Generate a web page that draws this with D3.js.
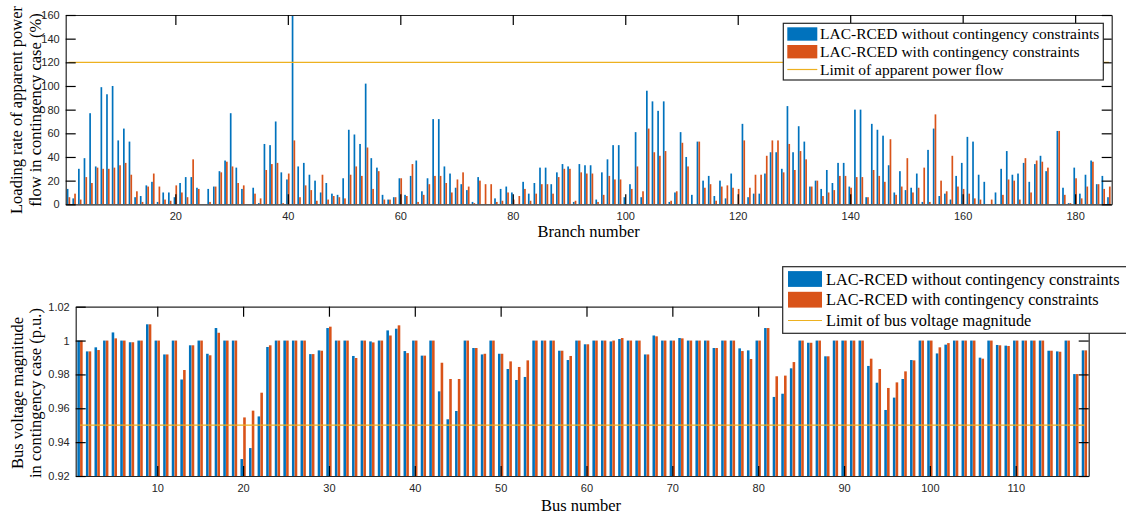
<!DOCTYPE html>
<html>
<head>
<meta charset="utf-8">
<script src="https://cdn.jsdelivr.net/npm/d3@7"></script>
<style>
html,body{margin:0;padding:0;background:#fff;}
svg{display:block;}
</style>
</head>
<body>
<svg id="chart" width="1126" height="517"></svg>
<script>
// ---------------- DATA ----------------
const branchWithout = [13,5,30,39,77,32,99,93,100,54,64,53,6,7,16,19,2,10,10,6,
18,23,23,14,0,13,15,28,37,77,31,13,0,14,1,51,50,70,27,21,
160,32,35,25,20,10,18,9,8,22,63,59,51,102,39,31,8,4,6,22,
8,24,37,11,22,72,72,32,26,14,17,12,2,23,0,0,5,13,15,10,
0,19,9,18,31,31,17,27,34,32,2,34,33,33,4,27,38,50,50,6,
17,61,6,96,87,79,87,2,10,61,40,8,53,20,24,7,20,5,26,0,
68,6,9,9,26,44,44,30,83,44,66,53,15,20,13,29,18,35,35,15,
80,80,6,68,63,58,33,10,28,12,14,26,2,46,64,7,9,4,24,35,
57,53,25,19,0,10,30,45,25,26,35,19,34,41,28,0,62,14,1,31,
9,25,37,17,24,6];
const branchWith = [6,9,4,23,18,31,30,30,31,33,35,25,11,2,15,26,15,4,3,16,
10,6,38,13,0,2,15,27,36,32,18,16,0,9,5,29,34,35,1,26,
54,6,16,12,3,25,4,7,6,5,25,32,24,48,13,28,4,4,6,22,
7,34,2,8,17,24,24,18,10,21,27,15,1,20,17,17,2,3,10,4,
7,13,3,9,17,17,9,23,30,30,3,27,26,26,2,8,24,21,21,0,
13,32,11,64,44,41,45,3,11,52,32,0,53,14,17,3,15,16,14,13,
54,14,25,25,41,54,54,27,51,29,45,38,15,20,7,10,12,24,24,14,
23,23,6,29,24,19,55,8,15,39,10,14,31,2,76,20,11,41,15,13,
9,5,4,0,4,0,8,21,20,4,39,10,37,36,31,0,62,8,1,22,
5,15,36,17,13,15];
const branchLimit = 120;
const branchTicksX = [20,40,60,80,100,120,140,160,180];
const branchTicksY = [0,20,40,60,80,100,120,140,160];

const busWithout = [1.000,0.9936,0.996,1.000,1.0048,1.000,0.999,1.000,1.0096,1.000,
0.9918,1.000,0.977,0.9972,1.000,0.9922,1.0074,1.000,1.000,0.930,
0.9365,0.9552,0.9962,1.000,1.000,1.000,1.000,0.992,0.9942,1.0074,
1.000,1.000,0.9909,1.000,0.9995,1.000,1.006,1.007,0.9938,1.000,
0.9911,1.000,0.970,0.9535,0.9584,1.000,0.9956,0.9918,1.000,0.9922,
0.9832,0.9767,0.9785,1.000,1.000,1.000,0.994,0.9885,1.000,0.9978,
1.000,1.000,0.9995,1.0009,1.000,1.000,0.9918,1.003,1.000,1.000,
1.0015,1.000,1.000,1.000,0.9956,1.000,1.000,0.9954,0.9942,1.000,
1.0074,0.9667,0.9686,0.9836,1.000,0.9987,1.000,0.9907,1.000,1.000,
1.000,1.000,0.985,0.9751,0.959,0.9663,0.9773,0.9885,1.000,1.000,
0.9924,0.9976,1.000,1.000,1.000,0.9899,1.000,0.9974,0.997,1.000,
1.000,1.000,1.000,0.994,0.9936,1.000,0.9802,0.9942];
const busWith = [1.000,0.9936,0.9944,1.000,1.0013,1.000,0.999,1.000,1.0096,1.000,
0.9918,1.000,0.9826,0.9972,1.000,0.9913,1.0046,1.000,1.000,0.9546,
0.9586,0.9692,0.9972,1.000,1.000,1.000,1.000,0.992,0.994,1.0082,
1.000,1.000,0.9897,1.000,0.9989,1.000,1.003,1.009,0.9926,1.000,
0.9911,1.000,0.9869,0.9773,0.9773,1.000,0.9956,0.9922,1.000,0.9922,
0.9877,0.9844,0.9883,1.000,1.000,1.000,0.994,0.9909,1.000,0.9978,
1.000,1.000,1.000,1.0015,1.000,1.000,0.9918,1.0025,1.000,1.000,
1.0013,1.000,1.000,1.000,0.9956,1.000,1.000,0.9938,0.9891,1.000,
1.0074,0.9789,0.9793,0.9873,1.000,0.9987,1.000,0.9907,1.000,1.000,
1.000,1.000,0.9893,0.9832,0.972,0.9753,0.9818,0.9883,1.000,1.000,
0.996,0.9985,1.000,1.000,1.000,0.9893,1.000,0.9972,0.9968,1.000,
1.000,1.000,1.000,0.994,0.9934,1.000,0.9802,0.9942];
const busLimit = 0.95;
const busTicksX = [10,20,30,40,50,60,70,80,90,100,110];
const busTicksY = [0.92,0.94,0.96,0.98,1,1.02];
const busTickLabelsY = ["0.92","0.94","0.96","0.98","1","1.02"];

const legendTop = ["LAC-RCED without contingency constraints","LAC-RCED with contingency constraints","Limit of apparent power flow"];
const legendBottom = ["LAC-RCED without contingency constraints","LAC-RCED with contingency constraints","Limit of bus voltage magnitude"];

// ---------------- STYLE ----------------
const C_BLUE = "#0072BD", C_ORANGE = "#D95319", C_LIMIT = "#EDB120", C_AX = "#262626";
const SERIF = "'Liberation Serif','Times New Roman',serif";
const SANS = "'Liberation Sans',Arial,sans-serif";
const OFF = 0.16, BW = 0.30, TICK = 10;

const svg = d3.select("#chart");

function panel(cfg){
  const {xDom, xRange, yDom, yRange, blue, orange, limit, ticksX, ticksY, tickFmtY, base, clipId} = cfg;
  const x = d3.scaleLinear().domain(xDom).range(xRange);
  const y = d3.scaleLinear().domain(yDom).range(yRange);
  const g = svg.append("g");
  g.append("clipPath").attr("id", clipId).append("rect")
    .attr("x", xRange[0]).attr("y", yRange[1]).attr("width", xRange[1]-xRange[0]).attr("height", yRange[0]-yRange[1]);
  const bars = g.append("g").attr("clip-path", `url(#${clipId})`);
  const bw = x(BW) - x(0);
  [[blue, -OFF, C_BLUE],[orange, OFF, C_ORANGE]].forEach(([vals, off, col]) => {
    bars.selectAll(null).data(vals).enter().append("rect")
      .attr("x", (d,i) => x(i+1+off) - bw/2)
      .attr("width", bw)
      .attr("y", d => y(Math.max(d, base)))
      .attr("height", d => Math.max(0, y(base) - y(Math.max(d, base))))
      .attr("fill", col);
  });
  // limit line
  bars.append("line")
    .attr("x1", x(1)).attr("x2", x(blue.length))
    .attr("y1", y(limit)).attr("y2", y(limit))
    .attr("stroke", C_LIMIT).attr("stroke-width", 1.2);
  // axes
  const ax = g.append("g").attr("font-family", SANS);
  const bottom = ax.append("g").attr("transform", `translate(0,${yRange[0]})`)
    .call(d3.axisBottom(x).tickValues(ticksX).tickSizeInner(-TICK).tickSizeOuter(0).tickPadding(8).tickFormat(d3.format("d")));
  const top = ax.append("g").attr("transform", `translate(0,${yRange[1]})`)
    .call(d3.axisTop(x).tickValues(ticksX).tickSizeInner(-TICK).tickSizeOuter(0).tickFormat(""));
  const left = ax.append("g").attr("transform", `translate(${xRange[0]},0)`)
    .call(d3.axisLeft(y).tickValues(ticksY).tickSizeInner(-TICK).tickSizeOuter(0).tickPadding(6).tickFormat(tickFmtY));
  const right = ax.append("g").attr("transform", `translate(${xRange[1]},0)`)
    .call(d3.axisRight(y).tickValues(ticksY).tickSizeInner(-TICK).tickSizeOuter(0).tickFormat(""));
  [bottom, top, left, right].forEach(s => {
    s.selectAll("path.domain").attr("stroke", C_AX).attr("stroke-width", 1.2);
    s.selectAll(".tick line").attr("stroke", "#000").attr("stroke-width", 1.2);
    s.selectAll(".tick text").attr("fill", C_AX).attr("font-size", 11).attr("font-family", SANS);
  });
  return {x, y, g};
}

const P1 = panel({xDom:[0.5,186.5], xRange:[65.7,1111.7], yDom:[0,160], yRange:[204.3,15],
  blue:branchWithout, orange:branchWith, limit:branchLimit, ticksX:branchTicksX, ticksY:branchTicksY,
  tickFmtY:d3.format("d"), base:0, clipId:"c1"});
const P2 = panel({xDom:[0.5,118.5], xRange:[75.7,1088.7], yDom:[0.92,1.02], yRange:[476,306.7],
  blue:busWithout, orange:busWith, limit:busLimit, ticksX:busTicksX, ticksY:busTicksY,
  tickFmtY:(d,i)=>busTickLabelsY[i], base:0.92, clipId:"c2"});

// axis titles
function ylabel(lines, cy, xs){
  lines.forEach((t,i)=>{
    svg.append("text").attr("transform", `translate(${xs[i]},${cy}) rotate(-90)`)
      .attr("text-anchor","middle").attr("font-family",SERIF).attr("font-size",16.5)
      .attr("fill","#000").text(t);
  });
}
ylabel(["Loading rate of apparent power","flow in contingency case (%)"], 110, [22, 40.5]);
ylabel(["Bus voltage magnitude","in contingency case (p.u.)"], 393, [22.5, 41]);
svg.append("text").attr("x", 588.7).attr("y", 237).attr("text-anchor","middle")
  .attr("font-family",SERIF).attr("font-size",16.5).attr("fill","#000").text("Branch number");
svg.append("text").attr("x", 581).attr("y", 511).attr("text-anchor","middle")
  .attr("font-family",SERIF).attr("font-size",16.5).attr("fill","#000").text("Bus number");

// legends
function legend(cfg){
  const {x0, y0, w, h, labels, sw, swH, rowsY, fs, tx} = cfg;
  const lg = svg.append("g");
  lg.append("rect").attr("x", x0).attr("y", y0).attr("width", w).attr("height", h)
    .attr("fill","#fff").attr("stroke", C_AX).attr("stroke-width", 1.2);
  const cols = [C_BLUE, C_ORANGE, C_LIMIT];
  labels.forEach((t,i)=>{
    const cy = rowsY[i];
    if(i<2){
      lg.append("rect").attr("x", sw[0]).attr("y", cy - swH/2).attr("width", sw[1]-sw[0]).attr("height", swH).attr("fill", cols[i]);
    } else {
      lg.append("line").attr("x1", sw[0]).attr("x2", sw[1]).attr("y1", cy).attr("y2", cy)
        .attr("stroke", cols[i]).attr("stroke-width", 1.2);
    }
    lg.append("text").attr("x", tx).attr("y", cy).attr("dy","0.35em")
      .attr("font-family",SERIF).attr("font-size",fs).attr("fill","#000").text(t);
  });
}
legend({x0:783.3, y0:23.3, w:320, h:56.7, labels:legendTop, sw:[787.3,817.3], swH:13.4, rowsY:[34,51.7,69.5], fs:15.5, tx:820});
legend({x0:782.7, y0:266.7, w:350, h:66.6, labels:legendBottom, sw:[788,822], swH:15.8, rowsY:[279,299.7,320.5], fs:16.3, tx:826});
</script>
</body>
</html>
